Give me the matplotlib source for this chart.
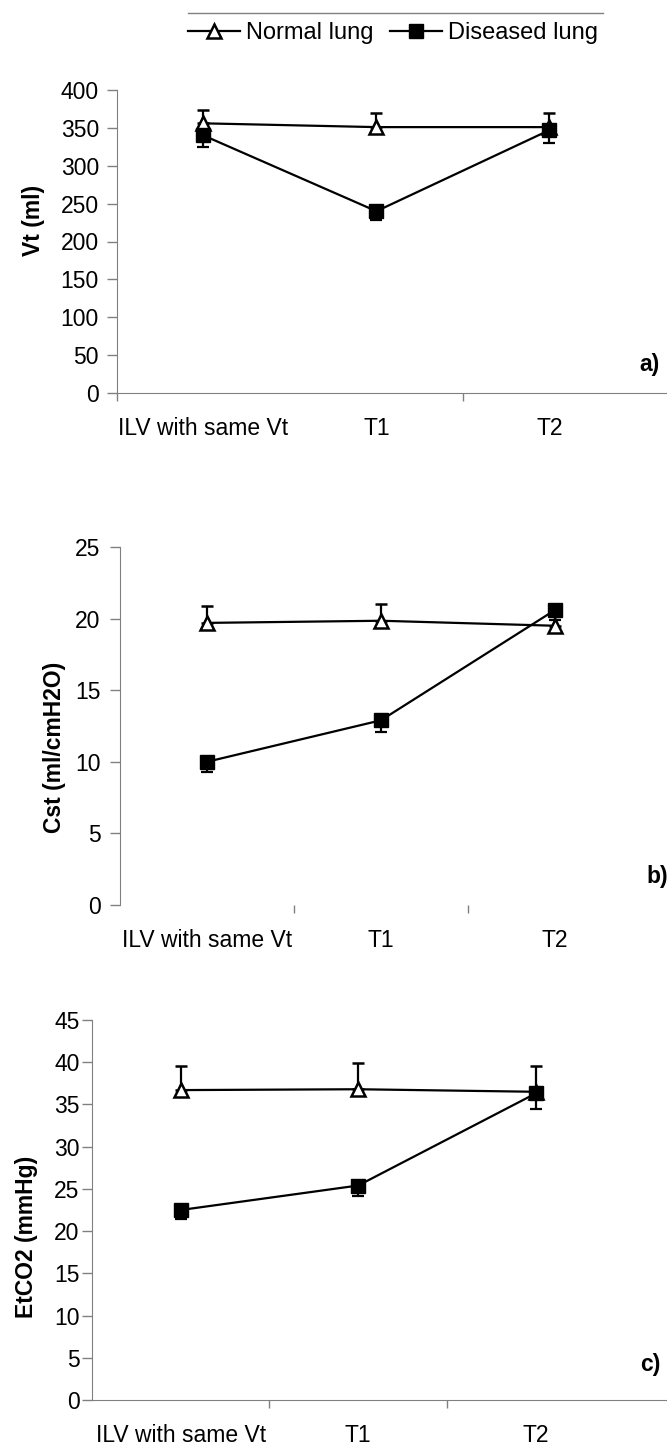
import matplotlib
matplotlib.use("Agg")
import matplotlib.pyplot as plt
from matplotlib.lines import Line2D

plt.rcParams["font.family"] = ["Liberation Sans", "DejaVu Sans"]

categories = ["ILV with same Vt", "T1", "T2"]

vt_normal = [356, 351, 351]
vt_normal_err = [17, 18, 18]
vt_diseased = [340, 240, 347]
vt_diseased_err = [15, 12, 17]

cst_normal = [19.7, 19.85, 19.5]
cst_normal_err = [1.2, 1.15, 1.1]
cst_diseased = [10.0, 12.9, 20.6]
cst_diseased_err = [0.7, 0.8, 0.7]

etco2_normal = [36.7, 36.8, 36.5]
etco2_normal_err = [2.9, 3.1, 3.0]
etco2_diseased = [22.5, 25.4, 36.3]
etco2_diseased_err = [1.1, 1.2, 1.8]

AXIS_GRAY = "#808080"
FS = 16.5
W, H = 667, 1445

NORMAL_STYLE = dict(color="black", lw=1.6, marker="^", markersize=10, markerfacecolor="white",
                    markeredgecolor="black", markeredgewidth=1.8)
DISEASED_STYLE = dict(color="black", lw=1.6, marker="s", markersize=9.5, markerfacecolor="black",
                      markeredgecolor="black")

fig = plt.figure(figsize=(W / 100, H / 100), dpi=100)


def px_axes(left, right, top, bottom):
    return fig.add_axes([left / W, 1 - bottom / H, (right - left) / W, (bottom - top) / H])


panels = [
    dict(box=(117, 667, 90, 393), ylim=(0, 400), yticks=range(0, 401, 50), ylabel="Vt (ml)",
         lab=(-0.131, 0.57), xmax=2.68, bticks=[-0.5, 1.5], bottom=True, tag="a)", tagpos=(649, 365),
         ypad=6, data=(vt_normal, vt_normal_err, vt_diseased, vt_diseased_err)),
    dict(box=(120, 642, 547, 905), ylim=(0, 25), yticks=range(0, 26, 5), ylabel="Cst (ml/cmH2O)",
         lab=(-0.103, 0.44), xmax=2.5, bticks=[0.5, 1.5], bottom=False, tag="b)", tagpos=(657, 877),
         ypad=7, data=(cst_normal, cst_normal_err, cst_diseased, cst_diseased_err)),
    dict(box=(92, 667, 1020, 1400), ylim=(0, 45), yticks=range(0, 46, 5), ylabel="EtCO2 (mmHg)",
         lab=(-0.094, 0.43), xmax=2.74, bticks=[0.5, 1.5], bottom=True, tag="c)", tagpos=(650, 1364),
         ypad=2, data=(etco2_normal, etco2_normal_err, etco2_diseased, etco2_diseased_err)),
]

x = list(range(len(categories)))
for p in panels:
    ax = px_axes(*p["box"])
    normal, normal_err, diseased, diseased_err = p["data"]

    # one-sided error bars: up for normal lung, down for diseased lung
    ax.errorbar(x, normal, yerr=[[0] * 3, normal_err], capsize=4.5, capthick=1.6,
                elinewidth=1.6, zorder=2, **NORMAL_STYLE)
    ax.errorbar(x, diseased, yerr=[diseased_err, [0] * 3], capsize=4.5, capthick=1.6,
                elinewidth=1.6, zorder=3, **DISEASED_STYLE)

    ax.set_xlim(-0.5, p["xmax"])
    ax.set_ylim(*p["ylim"])
    ax.set_yticks(list(p["yticks"]))
    ax.tick_params(axis="y", direction="out", length=7, width=1, color=AXIS_GRAY,
                   labelsize=FS, pad=p["ypad"])

    ax.set_xticks(p["bticks"])
    ax.set_xticklabels([])
    ax.set_xticks(x, minor=True)
    ax.set_xticklabels(categories, minor=True)
    ax.tick_params(axis="x", which="major", direction="out", length=6, width=1, color=AXIS_GRAY)
    ax.tick_params(axis="x", which="minor", length=0, labelsize=FS, pad=17)

    for side in ("top", "right"):
        ax.spines[side].set_visible(False)
    ax.spines["left"].set_color(AXIS_GRAY)
    ax.spines["bottom"].set_color(AXIS_GRAY)
    ax.spines["bottom"].set_visible(p["bottom"])

    ax.set_ylabel(p["ylabel"], fontsize=FS, fontweight="bold")
    ax.yaxis.set_label_coords(*p["lab"])

    fig.text(p["tagpos"][0] / W, 1 - p["tagpos"][1] / H, p["tag"], fontsize=FS,
             fontweight="bold", ha="center", va="center")

# legend at the top with a thin rule above it
handles = [Line2D([], [], **NORMAL_STYLE), Line2D([], [], **DISEASED_STYLE)]
fig.legend(handles, ["Normal lung", "Diseased lung"], loc="center",
           bbox_to_anchor=(393 / W, 1 - 33 / H), ncol=2, frameon=False, fontsize=FS + 0.5,
           handlelength=2.2, handletextpad=0.25, columnspacing=0.7)
fig.add_artist(Line2D([188 / W, 603 / W], [1 - 13 / H, 1 - 13 / H], color=AXIS_GRAY, lw=1))

fig.savefig("out.png", dpi=100)
